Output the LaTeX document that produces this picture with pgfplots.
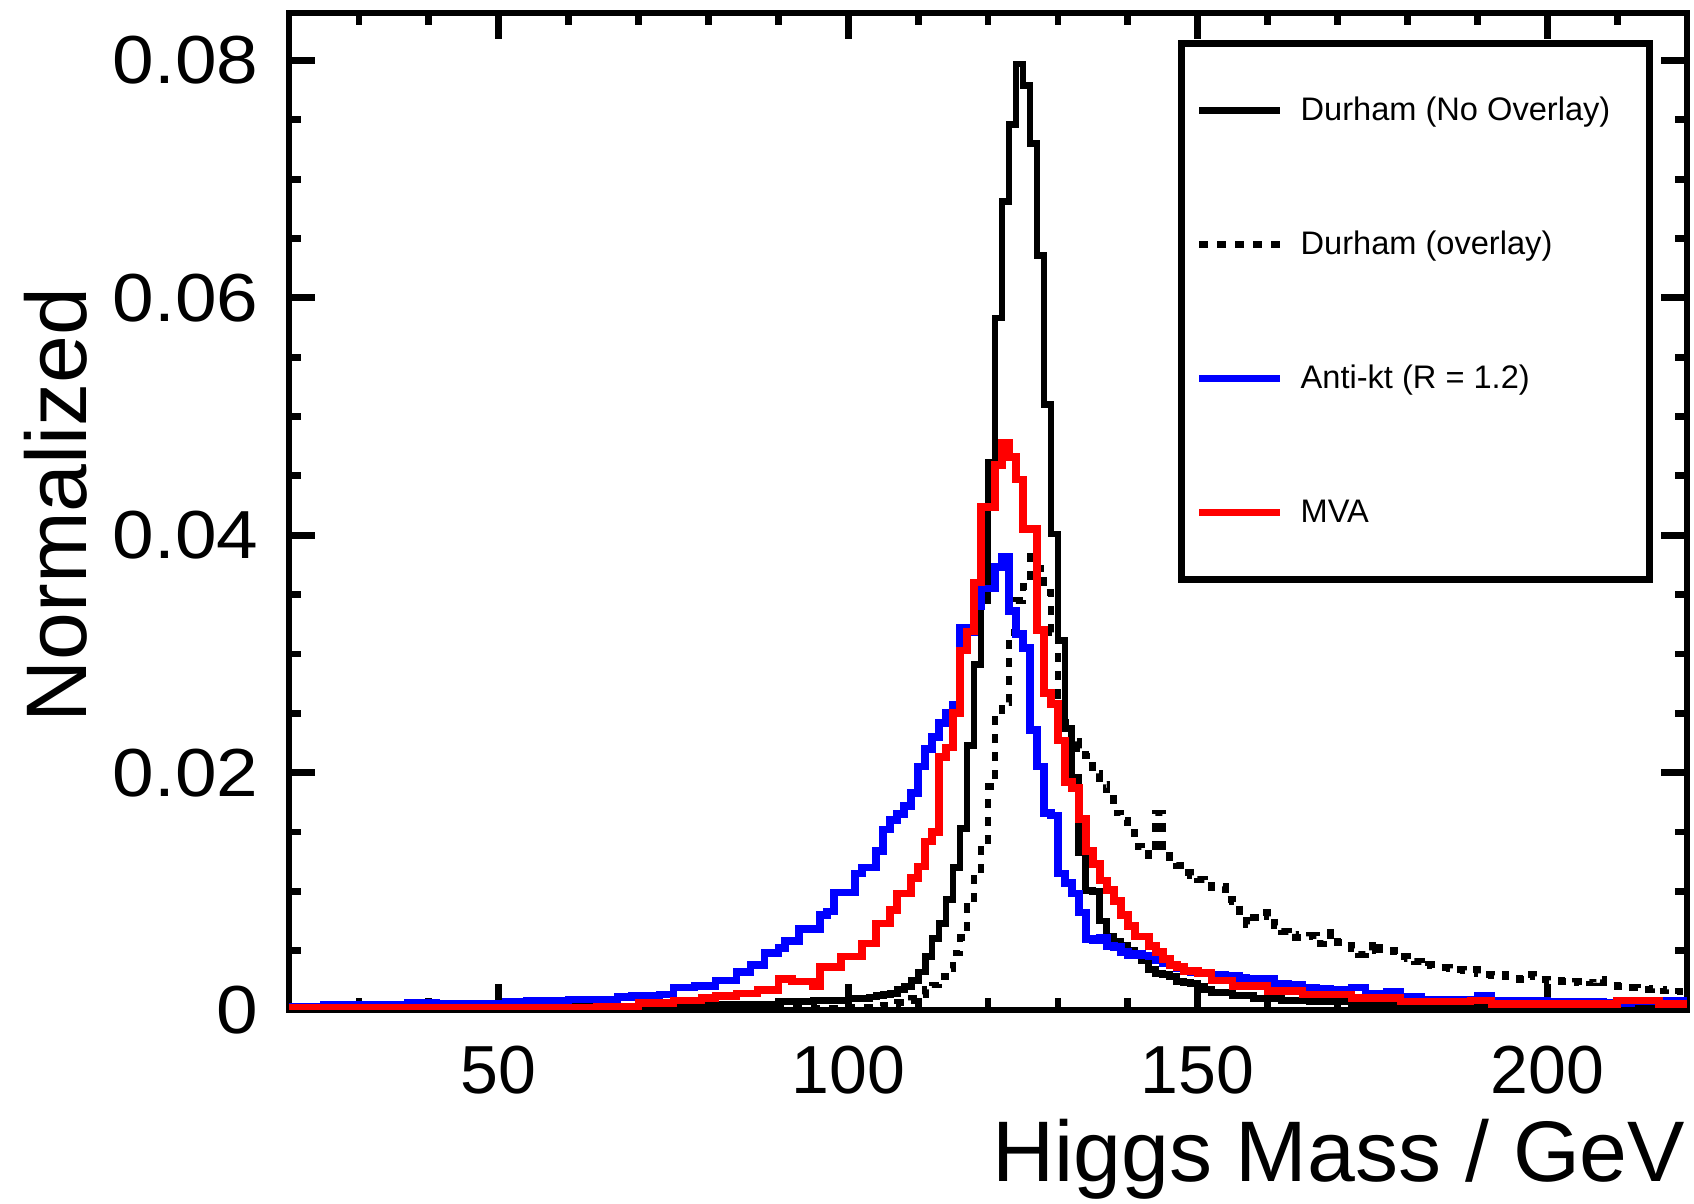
\documentclass[border=0pt]{standalone}
\usepackage{fontspec}
\setmainfont{Liberation Sans}
\usepackage{pgfplots}
\usepackage{pgfplotstable}
\pgfplotsset{compat=1.18}

% Durham (No Overlay): bin left edge, content
\pgfplotstableread{
x y
20 0.0002
60 0.0003
70 0.0004
80 0.0005
90 0.0007
95 0.0008
100 0.0010
103 0.0011
104 0.0012
105 0.0013
106 0.0014
107 0.0017
108 0.0020
109 0.0025
110 0.0032
111 0.0045
112 0.0060
113 0.0073
114 0.0093
115 0.0120
116 0.0153
117 0.0223
118 0.0291
119 0.0345
120 0.0461
121 0.0583
122 0.0681
123 0.0746
124 0.0797
125 0.0779
126 0.0730
127 0.0636
128 0.0510
129 0.0401
130 0.0311
131 0.0237
132 0.0196
133 0.0133
134 0.0101
135 0.0100
136 0.0075
137 0.0062
138 0.0058
139 0.0054
140 0.0050
141 0.0046
142 0.0042
143 0.0034
144 0.0031
145 0.0030
146 0.0028
147 0.0024
148 0.0023
149 0.0022
150 0.0020
151 0.0017
152 0.0015
155 0.0012
158 0.0010
162 0.0008
166 0.0007
172 0.0005
180 0.0004
200 0.0003
220 0.0003
}\bs

% Durham (overlay)
\pgfplotstableread{
x y
20 0.0001
100 0.0002
104 0.0003
105 0.0004
106 0.0005
107 0.0006
108 0.0008
109 0.0010
110 0.0013
111 0.0017
112 0.0021
113 0.0028
114 0.0035
115 0.0048
116 0.0061
117 0.0087
118 0.0111
119 0.0140
120 0.0188
121 0.0252
122 0.0259
123 0.0318
124 0.0345
125 0.0357
126 0.0388
127 0.0372
128 0.0352
129 0.0318
130 0.0265
131 0.0242
132 0.0226
133 0.0220
134 0.0214
135 0.0199
136 0.0190
137 0.0182
138 0.0166
139 0.0160
140 0.0150
141 0.0138
142 0.0136
143 0.0130
144 0.0166
145 0.0130
146 0.0125
147 0.0122
148 0.0116
149 0.0113
150 0.0110
151 0.0105
152 0.0103
153 0.0104
154 0.0093
155 0.0091
156 0.0079
157 0.0072
158 0.0078
159 0.0082
160 0.0079
161 0.0071
162 0.0066
163 0.0064
164 0.0061
165 0.0062
166 0.0063
167 0.0056
168 0.0059
169 0.0065
170 0.0057
171 0.0054
172 0.0052
173 0.0047
174 0.0050
175 0.0057
176 0.0051
177 0.0049
178 0.0050
179 0.0045
180 0.0043
181 0.0041
182 0.0037
183 0.0038
184 0.0036
185 0.0036
186 0.0035
187 0.0034
188 0.0033
189 0.0034
190 0.0031
191 0.0030
192 0.0029
193 0.0030
194 0.0028
195 0.0027
196 0.0026
197 0.0030
198 0.0028
199 0.0026
200 0.0025
201 0.0025
202 0.0024
203 0.0023
204 0.0024
205 0.0025
206 0.0023
207 0.0026
208 0.0023
209 0.0021
210 0.0020
211 0.0019
212 0.0019
213 0.0018
214 0.0017
215 0.0018
216 0.0016
217 0.0017
218 0.0016
219 0.0012
220 0.0012
}\bd

% Anti-kt (R = 1.2)
\pgfplotstableread{
x y
20 0.0003
25 0.0004
37 0.0006
41 0.0005
51 0.0007
54 0.0008
60 0.0009
67 0.0011
69 0.0012
73 0.0013
75 0.0019
78 0.0020
81 0.0025
84 0.0032
86 0.0038
88 0.0048
90 0.0052
91 0.0058
93 0.0068
96 0.0080
97 0.0083
98 0.0099
101 0.0115
102 0.0120
104 0.0134
105 0.0152
106 0.0160
107 0.0165
108 0.0172
109 0.0183
110 0.0205
111 0.0220
112 0.0230
113 0.0242
114 0.0250
115 0.0257
116 0.0322
117 0.0318
118 0.0340
119 0.0355
120 0.0355
121 0.0373
122 0.0382
123 0.0336
124 0.0317
125 0.0305
126 0.0236
127 0.0205
128 0.0166
129 0.0164
130 0.0115
131 0.0107
132 0.0098
133 0.0082
134 0.0060
135 0.0059
136 0.0061
137 0.0054
138 0.0053
139 0.0049
140 0.0046
141 0.0047
142 0.0046
143 0.0045
144 0.0042
145 0.0039
146 0.0038
147 0.0035
148 0.0033
149 0.0032
150 0.0031
152 0.0030
154 0.0029
156 0.0027
157 0.0026
159 0.0025
160 0.0026
161 0.0022
163 0.0021
165 0.0019
167 0.0018
169 0.0017
172 0.0019
174 0.0014
177 0.0015
179 0.0011
182 0.0009
190 0.0012
192 0.0008
200 0.0007
208 0.0006
212 0.0007
217 0.0008
220 0.0008
}\an

% MVA
\pgfplotstableread{
x y
20 0.0002
64 0.0003
70 0.0006
75 0.0008
79 0.0010
81 0.0012
84 0.0014
87 0.0017
90 0.0026
92 0.0024
95 0.0020
96 0.0036
99 0.0045
102 0.0056
104 0.0073
106 0.0084
107 0.0098
109 0.0111
110 0.0121
111 0.0142
112 0.0150
113 0.0213
114 0.0221
115 0.0250
116 0.0303
117 0.0319
118 0.0360
119 0.0424
120 0.0424
121 0.0459
122 0.0478
123 0.0466
124 0.0447
125 0.0405
126 0.0405
127 0.0320
128 0.0267
129 0.0258
130 0.0227
131 0.0192
132 0.0187
133 0.0161
134 0.0134
135 0.0123
136 0.0109
137 0.0101
138 0.0092
139 0.0080
140 0.0071
141 0.0062
143 0.0054
144 0.0049
145 0.0043
146 0.0038
147 0.0036
148 0.0033
150 0.0031
152 0.0025
155 0.0020
160 0.0016
165 0.0013
172 0.0010
179 0.0007
189 0.0008
192 0.0005
210 0.0008
216 0.0005
220 0.0005
}\mva

\begin{document}
\begin{tikzpicture}
\begin{axis}[
  name=ax,
  scale only axis,
  width=699pt, height=498.5pt,
  xmin=20, xmax=220, ymin=0, ymax=0.084,
  axis line style={line width=3.4pt, line join=miter},
  tick align=inside, tick pos=both,
  major tick length=13pt, minor tick length=6pt,
  every tick/.style={black, line width=3.4pt},
  xtick={50,100,150,200}, xticklabels={50,100,150,200},
  minor xtick={30,40,60,70,80,90,110,120,130,140,160,170,180,190,210},
  ytick={0,0.02,0.04,0.06,0.08}, yticklabels={0,0.02,0.04,0.06,0.08},
  minor ytick={0.005,0.01,0.015,0.025,0.03,0.035,0.045,0.05,0.055,0.065,0.07,0.075},
  /pgf/number format/assume math mode=true,
  xticklabel style={font=\fontsize{34pt}{40pt}\selectfont, anchor=base, inner sep=0pt, yshift=-41.7pt},
  yticklabel style={font=\fontsize{34pt}{40pt}\selectfont, anchor=east, inner sep=0pt, xshift=-15pt, xscale=1.1},
  xlabel={Higgs Mass / GeV},
  ylabel={Normalized},
  every axis x label/.style={at={(axis description cs:0.999,-0.1725)}, anchor=base east, inner sep=0pt, font=\fontsize{43pt}{50pt}\selectfont},
  every axis y label/.style={at={(axis description cs:-0.1449,0.5065)}, anchor=base, rotate=90, inner sep=0pt, font=\fontsize{43pt}{50pt}\selectfont},
  every axis plot/.append style={no markers, line width=3.4pt, line join=miter, line cap=butt},
  legend cell align=left,
  legend style={
    at={(axis description cs:0.9757,0.9729)}, anchor=north east,
    draw=black, line width=3.4pt, fill=white,
    inner sep=0pt, row sep=0pt, column sep=0pt,
    font=\fontsize{16.3pt}{19pt}\selectfont,
    nodes={inner sep=0pt, minimum height=67pt},
  },
  legend image code/.code={\path[draw=none,fill=none] (0pt,0pt) -- (59.5pt,0pt); \draw[#1] (8.75pt,0pt) -- (49.25pt,0pt);},
]
\addplot[const plot mark left, black] table {\bs};
\addplot[const plot mark left, black, dash pattern=on 4.5pt off 4.5pt] table {\bd};
\addplot[const plot mark left, blue, line width=3.8pt] table {\an};
\addplot[const plot mark left, red, line width=3.8pt] table {\mva};
\legend{\makebox[174.5pt][l]{Durham (No Overlay)}, \makebox[174.5pt][l]{Durham (overlay)}, \makebox[174.5pt][l]{Anti-kt (R = 1.2)}, \makebox[174.5pt][l]{MVA}}
\end{axis}
\pgfresetboundingbox
\path[use as bounding box] ([shift={(-144.5pt,-97pt)}]ax.south west) rectangle ([shift={(3.5pt,6.5pt)}]ax.north east);
\end{tikzpicture}
\end{document}
